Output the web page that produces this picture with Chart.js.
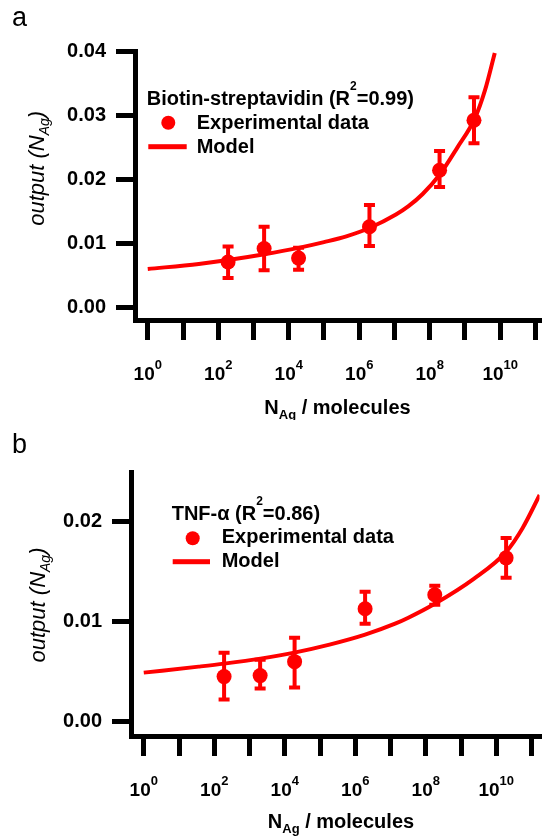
<!DOCTYPE html>
<html>
<head>
<meta charset="utf-8">
<script src="https://cdn.jsdelivr.net/npm/chart.js@4.4.0/dist/chart.umd.min.js"></script>
<style>
  html, body { margin: 0; padding: 0; background: #fff; }
  #wrap { position: relative; width: 547px; height: 840px; }
  canvas { position: absolute; left: 0; }
  #chartA { top: 0; }
  #chartB { top: 420px; }
</style>
</head>
<body>
<div id="wrap">
  <canvas id="chartA" width="547" height="420"></canvas>
  <canvas id="chartB" width="547" height="420"></canvas>
</div>
<script>
// panel a : biotin-streptavidin
var nA      = [190, 2000, 19000, 1.95e6, 1.9e8, 1.8e9];
var outA    = [0.0071, 0.0092, 0.0077, 0.0126, 0.0214, 0.0292];
var outAHi  = [0.0095, 0.0126, 0.0093, 0.0160, 0.0244, 0.0328];
var outALo  = [0.0046, 0.0058, 0.0059, 0.0096, 0.0188, 0.0256];
var modelNA = [1, 28, 190, 2040, 19000, 1e5, 4.3e5, 1.95e6, 1.1e7, 2.5e7, 6.3e7, 1.9e8, 6e8, 1.9e9, 3.7e9, 7e9];
var modelA  = [0.0060, 0.0068, 0.0074, 0.0083, 0.0093, 0.0102, 0.0111, 0.0124, 0.0145, 0.0158, 0.0177, 0.0207, 0.0249, 0.0295, 0.0339, 0.0397];

// panel b : TNF-alpha
var nB      = [190, 2000, 19000, 1.9e6, 1.8e8, 1.9e10];
var outB    = [0.0045, 0.0046, 0.0060, 0.0113, 0.0127, 0.0164];
var outBHi  = [0.0069, 0.0062, 0.0084, 0.0130, 0.0136, 0.0184];
var outBLo  = [0.0022, 0.0033, 0.0034, 0.0098, 0.0117, 0.0144];
var modelNB = [1, 36, 190, 2040, 18600, 1.86e5, 1.9e6, 1.35e7, 3.2e7, 1.8e8, 2.3e9, 1.9e10, 5.6e10, 1.7e11];
var modelB  = [0.0049, 0.0055, 0.0058, 0.0063, 0.0069, 0.0077, 0.0087, 0.0098, 0.0104, 0.0118, 0.0143, 0.0170, 0.0194, 0.0227];

// ticks
var tickExps  = [0, 1, 2, 3, 4, 5, 6, 7, 8, 9, 10, 11];
var labelExps = [0, 2, 4, 6, 8, 10];
var yTicksA   = [0, 0.01, 0.02, 0.03, 0.04];
var yTicksB   = [0, 0.01, 0.02];

var FAM = "'Liberation Sans', Arial, sans-serif";
var RED = '#ff0000';
Chart.defaults.font.family = FAM;
Chart.defaults.color = '#000';

// layout / text placement for each canvas
var panels = {
  chartA: {
    letter: 'a', letterY: 26,
    legendTitle: [{t: 'Biotin-streptavidin (R', f: 'bold 20px ' + FAM}, {t: '2', f: 'bold 12px ' + FAM, dy: -15}, {t: '=0.99)', f: 'bold 20px ' + FAM}],
    lx: 146.7, ly: 105, dotX: 168.3, dotY: 122.7, textX: 196.7, expY: 129.3,
    lineX1: 148.3, lineX2: 186.7, lineY: 146.7, modelY: 152.7,
    tickLabelY: 380, xTitleX: 337.5, xTitleY: 414, yTitleX: 38.3, yTitleY: 168.3,
    n: nA, hi: outAHi, lo: outALo
  },
  chartB: {
    letter: 'b', letterY: 33,
    legendTitle: [{t: 'TNF-\u03b1 (R', f: 'bold 20px ' + FAM}, {t: '2', f: 'bold 12px ' + FAM, dy: -15}, {t: '=0.86)', f: 'bold 20px ' + FAM}],
    lx: 171.7, ly: 100, dotX: 192.7, dotY: 118.3, textX: 221.7, expY: 123.3,
    lineX1: 172.7, lineX2: 210, lineY: 141.7, modelY: 146.7,
    tickLabelY: 376, xTitleX: 341, xTitleY: 408, yTitleX: 39, yTitleY: 185,
    n: nB, hi: outBHi, lo: outBLo
  }
};

function runsWidth(ctx, runs) {
  var w = 0;
  runs.forEach(function(r) { ctx.font = r.f; w += ctx.measureText(r.t).width; });
  return w;
}

function drawRuns(ctx, x, y, runs, center) {
  var cx = center ? x - runsWidth(ctx, runs) / 2 : x;
  ctx.textAlign = 'left';
  ctx.textBaseline = 'alphabetic';
  runs.forEach(function(r) {
    ctx.font = r.f;
    ctx.fillText(r.t, cx, y + (r.dy || 0));
    cx += ctx.measureText(r.t).width;
  });
}

// vertical error bars with caps
var errorBars = {
  id: 'errorBars',
  beforeDatasetsDraw: function(chart) {
    var p = panels[chart.canvas.id];
    var xs = chart.scales.x, ys = chart.scales.y, ctx = chart.ctx;
    ctx.save();
    ctx.strokeStyle = RED;
    ctx.lineWidth = 4;
    p.n.forEach(function(n, i) {
      var x = xs.getPixelForValue(n);
      var yh = ys.getPixelForValue(p.hi[i]);
      var yl = ys.getPixelForValue(p.lo[i]);
      ctx.beginPath();
      ctx.moveTo(x, yh); ctx.lineTo(x, yl);
      ctx.moveTo(x - 5.5, yh); ctx.lineTo(x + 5.5, yh);
      ctx.moveTo(x - 5.5, yl); ctx.lineTo(x + 5.5, yl);
      ctx.stroke();
    });
    ctx.restore();
  }
};

// letters, legend, log tick labels and axis titles
var decor = {
  id: 'decor',
  afterDraw: function(chart) {
    var p = panels[chart.canvas.id];
    var ctx = chart.ctx, xs = chart.scales.x;
    ctx.save();
    ctx.fillStyle = '#000';

    ctx.font = '27px ' + FAM;
    ctx.textAlign = 'left';
    ctx.fillText(p.letter, 12, p.letterY);

    // legend
    drawRuns(ctx, p.lx, p.ly, p.legendTitle, false);
    ctx.fillStyle = RED;
    ctx.beginPath();
    ctx.arc(p.dotX, p.dotY, 7, 0, Math.PI * 2);
    ctx.fill();
    ctx.fillRect(p.lineX1, p.lineY - 2.5, p.lineX2 - p.lineX1, 5);
    ctx.fillStyle = '#000';
    drawRuns(ctx, p.textX, p.expY, [{t: 'Experimental data', f: 'bold 20px ' + FAM}], false);
    drawRuns(ctx, p.textX, p.modelY, [{t: 'Model', f: 'bold 20px ' + FAM}], false);

    // 10^n labels
    labelExps.forEach(function(e) {
      var x = xs.getPixelForValue(Math.pow(10, e));
      drawRuns(ctx, x, p.tickLabelY, [{t: '10', f: 'bold 19px ' + FAM}, {t: String(e), f: 'bold 13px ' + FAM, dy: -11}], true);
    });

    // x title
    drawRuns(ctx, p.xTitleX, p.xTitleY, [
      {t: 'N', f: 'bold 20px ' + FAM},
      {t: 'Ag', f: 'bold 13px ' + FAM, dy: 5},
      {t: ' / molecules', f: 'bold 20px ' + FAM}
    ], true);

    // y title, rotated
    ctx.translate(p.yTitleX + 5.5, p.yTitleY);
    ctx.rotate(-Math.PI / 2);
    drawRuns(ctx, 0, 0, [
      {t: 'output (N', f: 'italic 22px ' + FAM},
      {t: 'Ag', f: 'italic 14px ' + FAM, dy: 5},
      {t: ')', f: 'italic 22px ' + FAM}
    ], true);
    ctx.restore();
  }
};

function makePanel(id, cfg) {
  return new Chart(document.getElementById(id), {
    type: 'scatter',
    data: {
      datasets: [
        {
          type: 'line',
          label: 'Model',
          data: cfg.modelN.map(function(n, i) { return {x: n, y: cfg.model[i]}; }),
          borderColor: RED,
          borderWidth: 4,
          pointRadius: 0,
          cubicInterpolationMode: 'monotone',
          fill: false
        },
        {
          label: 'Experimental data',
          data: cfg.n.map(function(n, i) { return {x: n, y: cfg.out[i]}; }),
          backgroundColor: RED,
          borderColor: RED,
          borderWidth: 0,
          pointRadius: 7.5,
          pointHoverRadius: 7.5
        }
      ]
    },
    options: {
      responsive: false,
      animation: false,
      devicePixelRatio: 1,
      layout: {padding: {top: cfg.top, left: 0, right: 0, bottom: 0}},
      plugins: {legend: {display: false}, tooltip: {enabled: false}},
      scales: {
        x: {
          type: 'logarithmic',
          min: Math.pow(10, cfg.xMinExp),
          max: Math.pow(10, cfg.xMaxExp),
          afterBuildTicks: function(s) {
            s.ticks = tickExps.map(function(e) { return {value: Math.pow(10, e)}; });
          },
          afterFit: function(s) { s.height = cfg.xAxisH; },
          ticks: {display: false},
          grid: {drawOnChartArea: false, tickLength: 20, tickWidth: 5, tickColor: '#000', lineWidth: 5},
          border: {width: 5, color: '#000'}
        },
        y: {
          min: cfg.yMin,
          max: cfg.yMax,
          afterBuildTicks: function(s) {
            s.ticks = cfg.yTicks.map(function(v) { return {value: v}; });
          },
          afterFit: function(s) { s.width = cfg.yAxisW; },
          ticks: {
            font: {size: 20, weight: 'bold'},
            color: '#000',
            padding: 10,
            callback: function(v) { return v.toFixed(2); }
          },
          grid: {drawOnChartArea: false, tickLength: 19, tickWidth: 5, tickColor: '#000', lineWidth: 5},
          border: {width: 5, color: '#000'}
        }
      }
    },
    plugins: [errorBars, decor]
  });
}

makePanel('chartA', {
  n: nA, out: outA, modelN: modelNA, model: modelA, yTicks: yTicksA,
  top: 51, yAxisW: 135, xAxisH: 100,
  xMinExp: -0.362, xMaxExp: 11.114, yMin: -0.00195, yMax: 0.04
});

makePanel('chartB', {
  n: nB, out: outB, modelN: modelNB, model: modelB, yTicks: yTicksB,
  top: 52, yAxisW: 131, xAxisH: 104,
  xMinExp: -0.362, xMaxExp: 11.226, yMin: -0.00145, yMax: 0.025
});
</script>
</body>
</html>
